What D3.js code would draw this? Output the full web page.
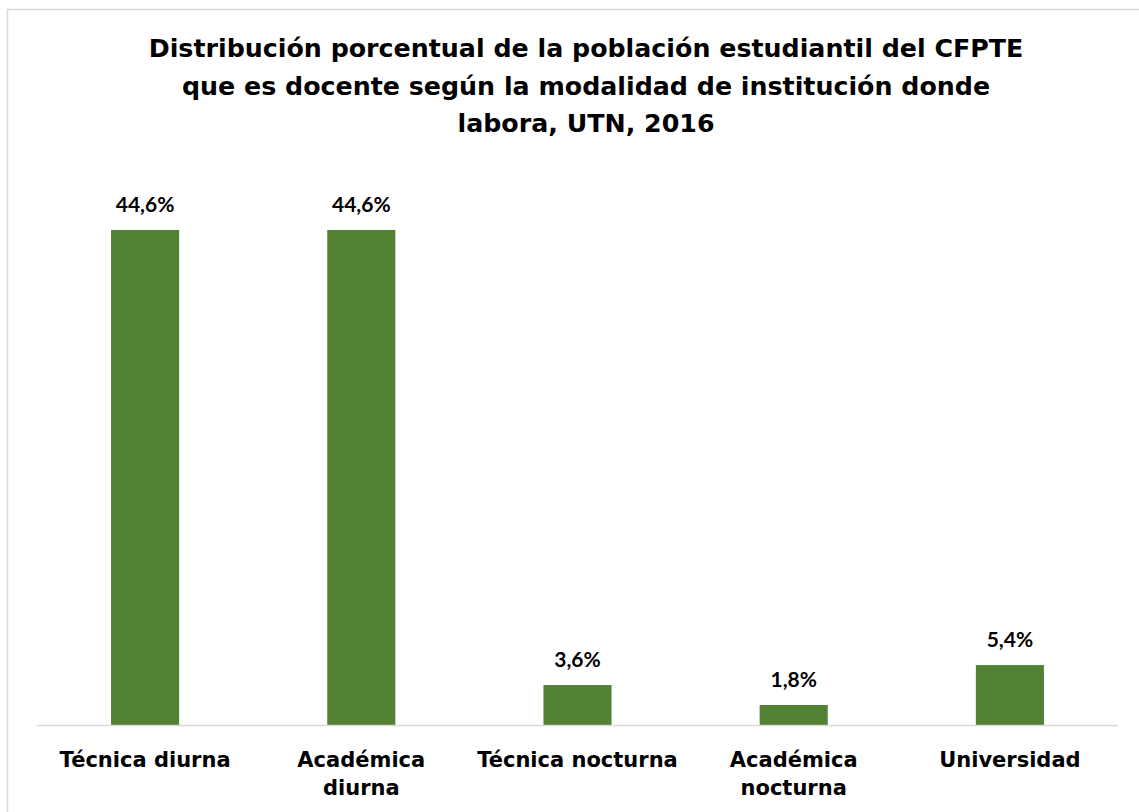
<!DOCTYPE html>
<html><head><meta charset="utf-8">
<script src="https://cdn.jsdelivr.net/npm/d3@7"></script>
<style>body{margin:0;background:#fff}</style>
</head><body>
<svg id="c" width="1139" height="812"></svg>
<script>
const categories = [["Técnica diurna"], ["Académica","diurna"], ["Técnica nocturna"], ["Académica","nocturna"], ["Universidad"]];
const values = [44.6, 44.6, 3.6, 1.8, 5.4];
const valueLabels = ["44,6%","44,6%","3,6%","1,8%","5,4%"];
const titleLines = ["Distribución porcentual de la población estudiantil del CFPTE","que es docente según la modalidad de institución donde","labora, UTN, 2016"];

const svg = d3.select("#c");
svg.append("rect").attr("x",7.5).attr("y",9.5).attr("width",1140).attr("height",810)
  .attr("fill","#fff").attr("stroke","#d9d9d9").attr("stroke-width",1.5);

const tFont = "'DejaVu Sans', sans-serif";
svg.append("g").selectAll("text").data(titleLines).join("text")
  .attr("x",586).attr("y",(d,i)=>57+i*37.5).attr("text-anchor","middle")
  .attr("font-family",tFont).attr("font-weight","bold").attr("font-size",25.3).attr("fill","#000")
  .text(d=>d);

const idx = values.map((d,i)=>i);
const x = d3.scaleBand().domain(idx).range([37,1118]).paddingInner(0.685).paddingOuter(0.3425);
const y = d3.scaleLinear().domain([0,50]).range([725,170]);

svg.append("g").selectAll("rect").data(values).join("rect")
  .attr("x",(d,i)=>x(i)).attr("width",x.bandwidth())
  .attr("y",d=>y(d)).attr("height",d=>y(0)-y(d)).attr("fill","#548235");

svg.append("line").attr("x1",37).attr("x2",1118).attr("y1",725.5).attr("y2",725.5)
  .attr("stroke","#d9d9d9").attr("stroke-width",1.5);

svg.append("g").selectAll("text").data(values).join("text")
  .attr("x",(d,i)=>x(i)+x.bandwidth()/2).attr("y",d=>y(d)-18)
  .attr("text-anchor","middle").attr("font-family","Lato, sans-serif")
  .attr("font-weight","bold").attr("font-size",21).attr("fill","#000")
  .text((d,i)=>valueLabels[i]);

const cat = svg.append("g").selectAll("text").data(categories).join("text")
  .attr("text-anchor","middle").attr("font-family",tFont).attr("font-weight","bold")
  .attr("font-size",21).attr("fill","#000");
cat.each(function(lines,i){
  d3.select(this).selectAll("tspan").data(lines).join("tspan")
    .attr("x",x(i)+x.bandwidth()/2).attr("y",(d,j)=>766.5+j*28.5).text(d=>d);
});
</script>
</body></html>
